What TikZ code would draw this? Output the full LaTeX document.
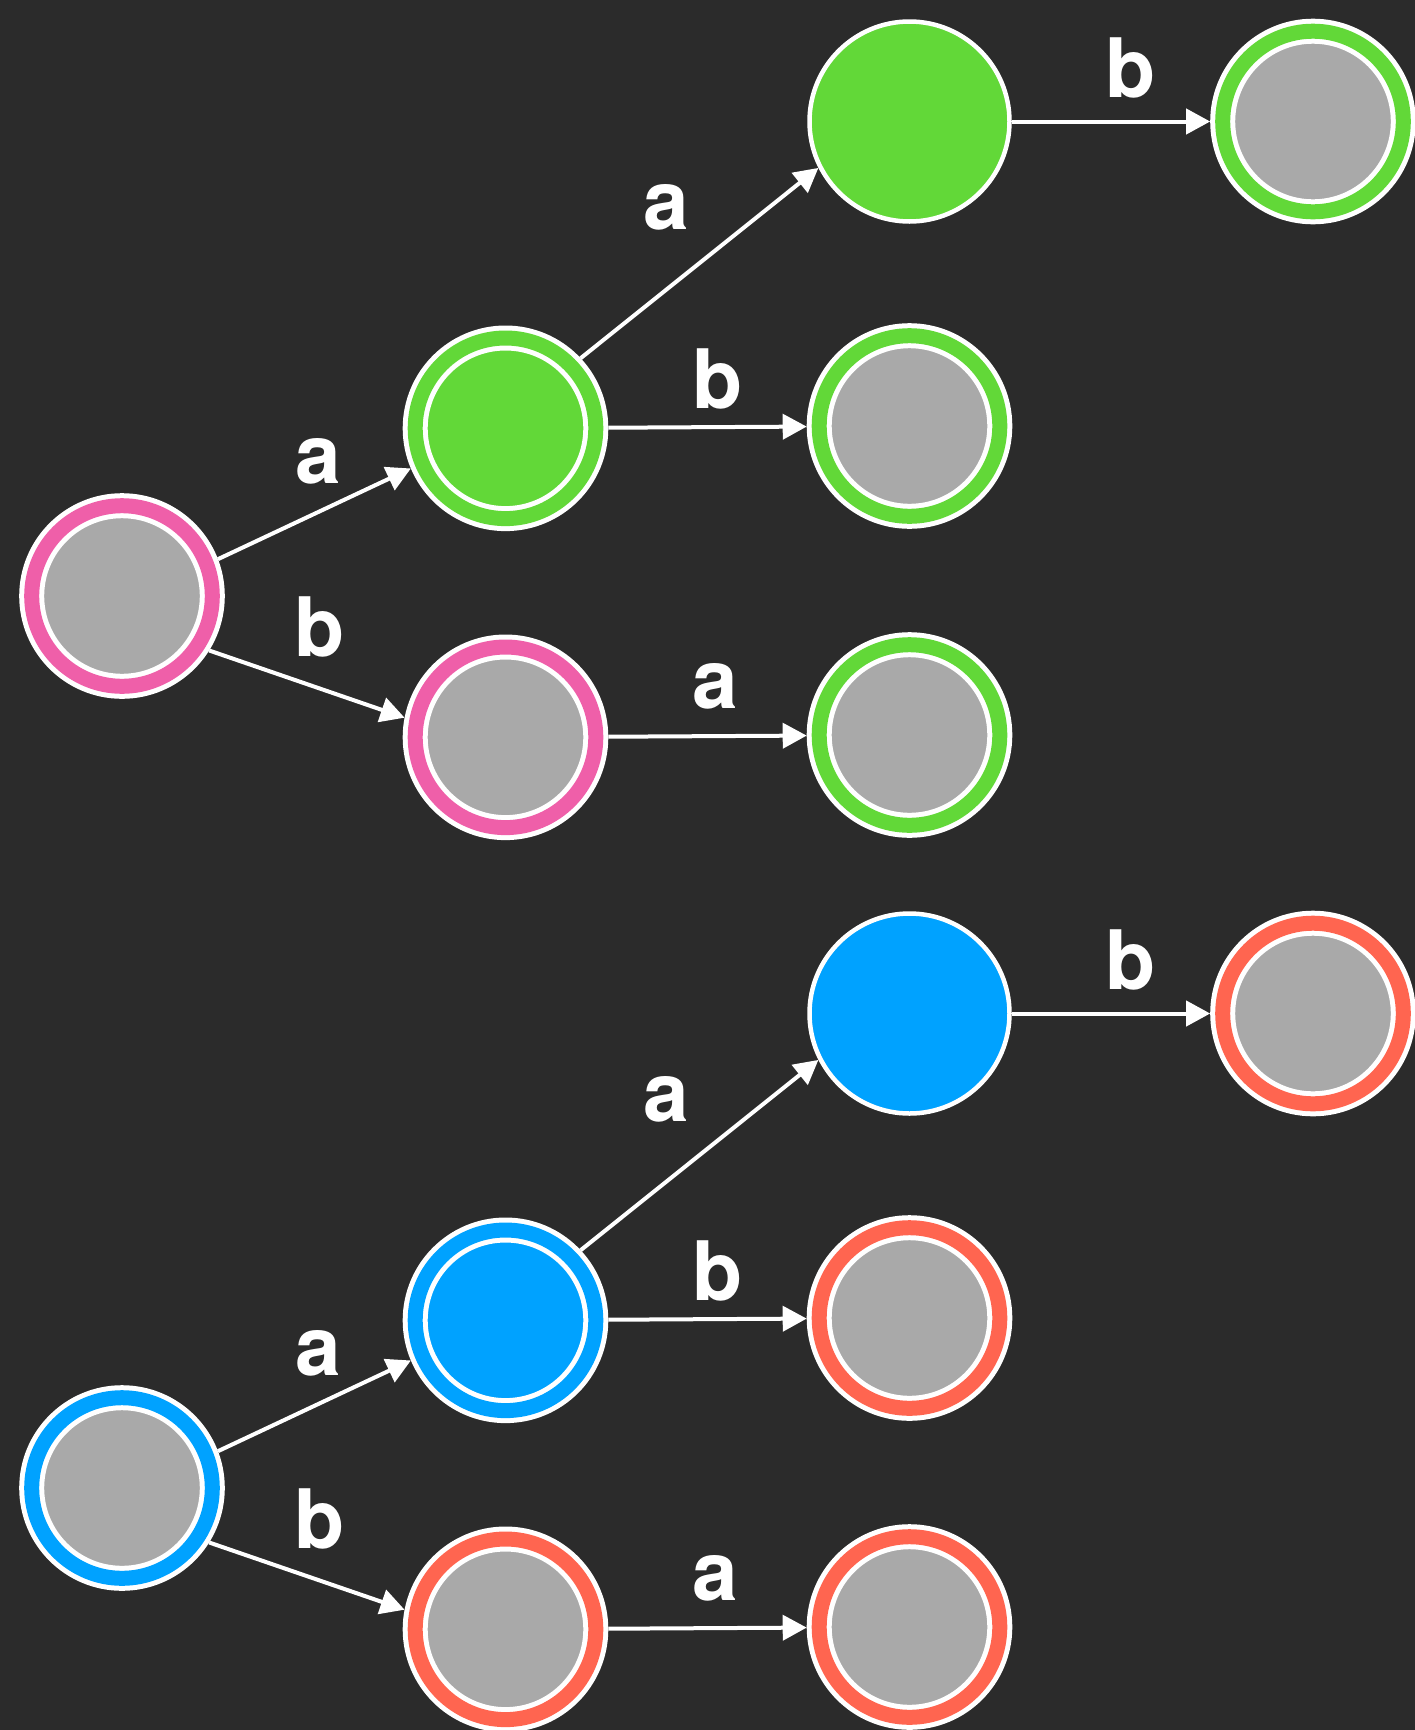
\documentclass[tikz,border=0pt]{standalone}
\usepackage{fontspec}
\setmainfont{TeX Gyre Heros}
\usetikzlibrary{arrows.meta}
\definecolor{bgcol}{HTML}{2B2B2B}
\definecolor{stategray}{HTML}{A9A9A9}
\definecolor{pinkc}{HTML}{EF5FA9}
\definecolor{greenc}{HTML}{62D838}
\definecolor{bluec}{HTML}{00A2FF}
\definecolor{redc}{HTML}{FF6550}
\begin{document}
\begin{tikzpicture}[x=1pt,y=-1pt,
  ringstate/.style={circle,draw=white,line width=5pt,double distance=15pt,double=#1,fill=stategray,minimum size=180.6pt,inner sep=0pt,outer sep=12.5pt},
  ringfilled/.style={ringstate=#1,fill=#1},
  plainstate/.style={circle,draw=white,line width=4.5pt,fill=#1,minimum size=200pt,inner sep=0pt,outer sep=2.25pt},
  arr/.style={draw=white,line width=4pt,-{Triangle[length=24pt,width=25pt]}},
  lbl/.style={text=white,font=\fontsize{82}{82}\selectfont\bfseries,inner sep=0pt}]
\fill[bgcol] (0,0) rectangle (1415,1730);
\useasboundingbox (0,0) rectangle (1415,1730);
% top group
\node[ringstate=pinkc] (L1) at (122,596) {};
\node[ringfilled=greenc] (A1) at (505.5,428.3) {};
\node[ringstate=pinkc] (B1) at (505.5,737.3) {};
\node[plainstate=greenc] (C1) at (909.5,121.5) {};
\node[ringstate=greenc] (D1) at (909.5,426) {};
\node[ringstate=greenc] (E1) at (909.5,735) {};
\node[ringstate=greenc] (F1) at (1313,121.5) {};
\draw[arr] (L1.21.7) -- (A1.203.3);
\draw[arr] (L1.-32.8) -- (B1.169);
\draw[arr] (A1.43.5) -- (C1.207.2);
\draw[arr] (A1) -- (D1);
\draw[arr] (B1) -- (E1);
\draw[arr] (C1) -- (F1);
\node[lbl] (la1) at (318,461.4) {a};
\node[lbl] (lb1) at (320,627) {b};
\node[lbl] (la2) at (666.7,207.5) {a};
\node[lbl] (lb2) at (717.5,378.6) {b};
\node[lbl] (la3) at (715.3,686.6) {a};
\node[lbl] (lb3) at (1130.3,68.4) {b};
% bottom group
\node[ringstate=bluec] (L2) at (122,1488) {};
\node[ringfilled=bluec] (A2) at (505.5,1320.3) {};
\node[ringstate=redc] (B2) at (505.5,1629.3) {};
\node[plainstate=bluec] (C2) at (909.5,1013.5) {};
\node[ringstate=redc] (D2) at (909.5,1318) {};
\node[ringstate=redc] (E2) at (909.5,1627) {};
\node[ringstate=redc] (F2) at (1313,1013.5) {};
\draw[arr] (L2.21.7) -- (A2.203.3);
\draw[arr] (L2.-32.8) -- (B2.169);
\draw[arr] (A2.43.5) -- (C2.207.2);
\draw[arr] (A2) -- (D2);
\draw[arr] (B2) -- (E2);
\draw[arr] (C2) -- (F2);
\node[lbl] (la4) at (318,1353.4) {a};
\node[lbl] (lb4) at (320,1519) {b};
\node[lbl] (la5) at (666.7,1099.5) {a};
\node[lbl] (lb5) at (717.5,1270.6) {b};
\node[lbl] (la6) at (715.3,1578.6) {a};
\node[lbl] (lb6) at (1130.3,960.4) {b};
\end{tikzpicture}
\end{document}
